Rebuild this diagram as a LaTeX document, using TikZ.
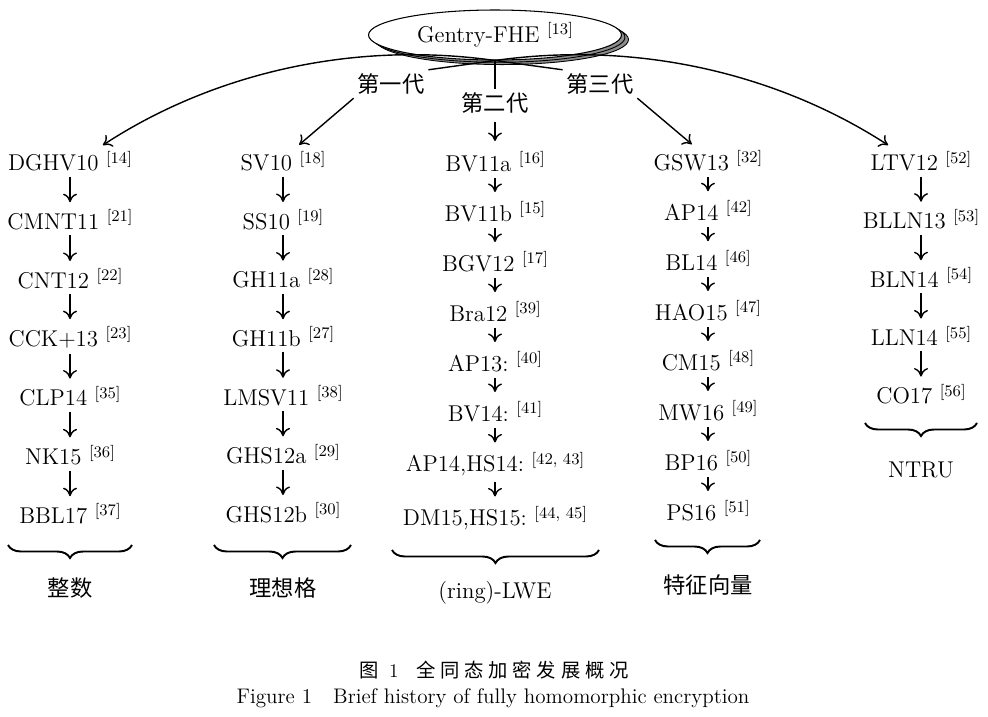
\documentclass[tikz,border=0pt]{standalone}
\usepackage{fontspec}
\usepackage{tikz}
\usetikzlibrary{arrows.meta,shapes.geometric,shadows,decorations.pathreplacing}
\newfontfamily\cjk{Noto Sans CJK SC}
\newfontfamily\cjkcap[LetterSpace=25]{Noto Sans CJK SC}
\definecolor{shadowgray}{HTML}{8C8C8C}
\newcommand{\refno}[1]{\raisebox{4.3pt}{\fontsize{9.2}{10}\selectfont[#1]}}
\tikzset{
  txt/.style={inner sep=2pt, font=\fontsize{13}{15}\selectfont},
  gen/.style={inner sep=2pt, font=\fontsize{12.7}{15}\selectfont\cjk},
  root/.style={ellipse, draw, fill=white, line width=.6pt, minimum width=5.06cm, minimum height=1cm, inner sep=0pt,
    copy shadow={shadow xshift=4pt, shadow yshift=-2.6pt, fill=shadowgray, draw=black, line width=.5pt},
    copy shadow={shadow xshift=2pt, shadow yshift=-1.3pt, fill=shadowgray, draw=black, line width=.5pt},
    font=\fontsize{13}{15}\selectfont},
  ar/.style={-{To[length=1.7mm,width=2.8mm]}, line width=.8pt},
  lar/.style={ar, shorten <=.9pt, shorten >=2.1pt},
  sar/.style={ar, shorten <=1.4pt, shorten >=3.2pt},
  ln/.style={line width=.8pt},
  brace/.style={decorate, decoration={brace, amplitude=0.26cm, mirror}, line width=1.1pt},
}

\begin{document}
\begin{tikzpicture}[x=0.02cm, y=-0.02cm]
  \useasboundingbox (0,0) rectangle (988,717);
  \node[root] (fhe) at (495,35) {Gentry-FHE \refno{13}};
  \node[gen] (g1) at (391,84) {第一代};
  \node[gen] (g2) at (495,103) {第二代};
  \node[gen] (g3) at (600,84) {第三代};

  \foreach \nm/\rf [count=\i] in {DGHV10/14, CMNT11/21, CNT12/22, CCK+13/23, CLP14/35, NK15/36, BBL17/37}
    \node[txt] (int\i) at (70, {161+58.8*(\i-1)}) {\nm\ \refno{\rf}};
  \foreach \nm/\rf [count=\i] in {SV10/18, SS10/19, GH11a/28, GH11b/27, LMSV11/38, GHS12a/29, GHS12b/30}
    \node[txt] (ideal\i) at (283, {161+58.6*(\i-1)}) {\nm\ \refno{\rf}};
  \foreach \y/\nm/\rf [count=\i] in {161.5/BV11a/16, 211.5/BV11b/15, 261.5/BGV12/17, 311.5/Bra12/39, 361.5/AP13:/40,
      411.5/BV14:/41, 464/{AP14,HS14:}/{42, 43}, 518/{DM15,HS15:}/{44, 45}}
    \node[txt] (lwe\i) at (495,\y) {\nm\ \refno{\rf}};
  \foreach \nm/\rf [count=\i] in {GSW13/32, AP14/42, BL14/46, HAO15/47, CM15/48, MW16/49, BP16/50, PS16/51}
    \node[txt] (eig\i) at (708, {160.5+50*(\i-1)}) {\nm\ \refno{\rf}};
  \foreach \nm/\rf [count=\i] in {LTV12/52, BLLN13/53, BLN14/54, LLN14/55, CO17/56}
    \node[txt] (ntru\i) at (921, {161+58.3*(\i-1)}) {\nm\ \refno{\rf}};

  \foreach \i [count=\j from 2] in {1,...,6}{
    \draw[lar] (int\i) -- (int\j);
    \draw[lar] (ideal\i) -- (ideal\j);
  }
  \foreach \i [count=\j from 2] in {1,...,7}{
    \draw[sar] (lwe\i) -- (lwe\j);
    \draw[sar] (eig\i) -- (eig\j);
  }
  \foreach \i [count=\j from 2] in {1,...,4}
    \draw[lar] (ntru\i) -- (ntru\j);

  \draw[ln] (fhe.south) -- (g1.north east);
  \draw[ln] (fhe.south) -- (g2.north);
  \draw[ln] (fhe.south) -- (g3.north west);
  \draw[ar, shorten <=2.8pt, shorten >=3.7pt] (g2) -- (lwe1);
  \draw[ar, shorten >=2pt] (g1.south west) -- (ideal1.46);
  \draw[ar, shorten >=2pt] (g3.south east) -- (eig1.134);
  \draw[ar, shorten >=2pt] (fhe.south) .. controls (350,40) and (210,75) .. (int1.25);
  \draw[ar, shorten >=2pt] (fhe.south) .. controls (640,40) and (780,75) .. (ntru1.155);

  \foreach \a/\b/\y in {8/132/545, 214/351/545, 392/599/550, 655/760/540, 865/977/423}
    \draw[brace] (\a,\y) -- (\b,\y);
  \node[gen] (lint) at (70,588) {整数};
  \node[gen] (lideal) at (283,588) {理想格};
  \node[txt] (llwe) at (495,593) {(ring)-LWE};
  \node[gen] (leig) at (708,585) {特征向量};
  \node[txt] (lntru) at (921,470) {NTRU};

  \node[txt, font=\fontsize{11}{13}\selectfont] (capzh) at (494,670) {{\cjk 图}\hspace{6pt}1\hspace{10pt}{\cjkcap 全同态加密发展概况}};
  \node[txt, font=\fontsize{12}{14}\selectfont] (capen) at (493,698) {Figure 1\quad Brief history of fully homomorphic encryption};
\end{tikzpicture}
\end{document}
